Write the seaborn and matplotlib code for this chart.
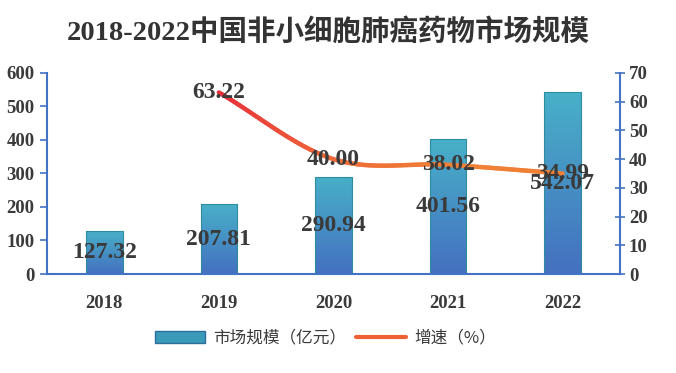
import numpy as np
import pandas as pd
import matplotlib
matplotlib.use("Agg")
import matplotlib.pyplot as plt
import seaborn as sns
from matplotlib.collections import LineCollection
from matplotlib.colors import LinearSegmentedColormap
from matplotlib.patches import Patch
from matplotlib.lines import Line2D

# --- data ---
years = ["2018", "2019", "2020", "2021", "2022"]
market = [127.32, 207.81, 290.94, 401.56, 542.07]
growth_years = ["2019", "2020", "2021", "2022"]
growth = [63.22, 40.00, 38.02, 34.99]

sns.set_theme(style="white")
plt.rcParams['font.family'] = ['Liberation Serif', 'Noto Sans CJK SC', 'DejaVu Sans']

TXT = "#3A3A3A"
AXC = "#4472C4"
serif_bold = dict(family=['Liberation Serif', 'DejaVu Serif'], weight="bold", color=TXT)

fig = plt.figure(figsize=(6.76, 3.73), dpi=100)
ax = fig.add_axes([0.0695, 0.2654, 0.8475, 0.539])

df = pd.DataFrame({"year": years, "market": market})
sns.barplot(data=df, x="year", y="market", ax=ax, width=0.32,
            color="#3A9AB8", edgecolor="#2E8CA0", linewidth=0.8)

# gradient fill for bars
bar_cmap = LinearSegmentedColormap.from_list("bars", ["#4470C0", "#48B0C8"])
grad = np.linspace(0, 1, 256).reshape(-1, 1)
for p in ax.patches:
    x0, y0 = p.get_x(), p.get_y()
    w, h = p.get_width(), p.get_height()
    im = ax.imshow(grad, cmap=bar_cmap, origin="lower", aspect="auto",
                   extent=[x0, x0 + w, y0, y0 + h], zorder=p.get_zorder())
    im.set_clip_path(p)
    p.set_facecolor("none")
    p.set_zorder(p.get_zorder() + 0.1)

ax.set_xlim(-0.5, 4.5)
ax.set_ylim(0, 600)
ax.set_yticks(range(0, 601, 100))
ax.set_xlabel("")
ax.set_ylabel("")
for i, v in enumerate(market):
    ax.text(i, v / 2, f"{v:.2f}", ha="center", va="center", fontsize=17, zorder=5, **serif_bold)

# growth line on right axis, smoothed (Catmull-Rom)
ax2 = ax.twinx()
ax2.set_ylim(0, 70)
ax2.set_yticks(range(0, 71, 10))
gx = np.array([years.index(y) for y in growth_years], dtype=float)
gy = np.array(growth, dtype=float)
px = np.concatenate([[2 * gx[0] - gx[1]], gx, [2 * gx[-1] - gx[-2]]])
py = np.concatenate([[2 * gy[0] - gy[1]], gy, [2 * gy[-1] - gy[-2]]])
sx, sy = [], []
t = np.linspace(0, 1, 40)
for k in range(1, len(px) - 2):
    p0, p1, p2, p3 = py[k - 1], py[k], py[k + 1], py[k + 2]
    q0, q1, q2, q3 = px[k - 1], px[k], px[k + 1], px[k + 2]
    sy.append(0.5 * (2 * p1 + (-p0 + p2) * t + (2 * p0 - 5 * p1 + 4 * p2 - p3) * t ** 2 + (-p0 + 3 * p1 - 3 * p2 + p3) * t ** 3))
    sx.append(0.5 * (2 * q1 + (-q0 + q2) * t + (2 * q0 - 5 * q1 + 4 * q2 - q3) * t ** 2 + (-q0 + 3 * q1 - 3 * q2 + q3) * t ** 3))
sx = np.concatenate(sx)
sy = np.concatenate(sy)
pts = np.array([sx, sy]).T.reshape(-1, 1, 2)
segs = np.concatenate([pts[:-1], pts[1:]], axis=1)
line_cmap = LinearSegmentedColormap.from_list("line", ["#E8303A", "#EE6A38", "#F08035", "#F08035"])
lc = LineCollection(segs, cmap=line_cmap, linewidth=3.2, capstyle="round", zorder=3)
lc.set_array(np.linspace(0, 1, len(segs)))
ax2.add_collection(lc)
for x, v in zip(gx, gy):
    ax2.text(x, v, f"{v:.2f}", ha="center", va="center", fontsize=17, zorder=6, **serif_bold)

# axes styling
for a in (ax, ax2):
    for s in a.spines.values():
        s.set_visible(False)
ax.spines["left"].set_visible(True)
ax.spines["left"].set_color(AXC)
ax.spines["left"].set_linewidth(1.5)
ax.spines["bottom"].set_visible(True)
ax.spines["bottom"].set_color(AXC)
ax.spines["bottom"].set_linewidth(1.5)
ax2.spines["right"].set_visible(True)
ax2.spines["right"].set_color(AXC)
ax2.spines["right"].set_linewidth(1.5)
ax.tick_params(axis="y", left=True, direction="out", length=5, width=1.2, color=AXC, pad=4)
ax.tick_params(axis="x", bottom=False, pad=9)
ax2.tick_params(axis="y", right=True, direction="inout", length=7, width=1.2, color=AXC, pad=3)
for lab in ax.get_yticklabels() + ax2.get_yticklabels() + ax.get_xticklabels():
    lab.set_fontfamily(['Liberation Serif', 'DejaVu Serif'])
    lab.set_fontweight("bold")
    lab.set_color(TXT)
    lab.set_fontsize(13.5)

ax.grid(False)
ax2.grid(False)

fig.text(0.485, 0.915, "2018-2022中国非小细胞肺癌药物市场规模", ha="center", va="center",
         fontsize=20.5, fontweight="bold", color="#333333",
         family=['Liberation Serif', 'Noto Sans CJK SC'])

handles = [Patch(facecolor="#3A9AB8", edgecolor="#2E6FA0"),
           Line2D([0], [0], color="#F06035", linewidth=3)]
leg = fig.legend(handles, ["市场规模（亿元）", "增速（%）"], loc="center",
                 bbox_to_anchor=(0.482, 0.093), ncol=2, frameon=False,
                 prop={"family": ["Noto Sans CJK SC"], "size": 12, "weight": "medium"},
                 handlelength=3.0, handleheight=0.8, columnspacing=0.6, handletextpad=0.5)
for t_ in leg.get_texts():
    t_.set_color(TXT)

fig.savefig("out.png", dpi=100)
